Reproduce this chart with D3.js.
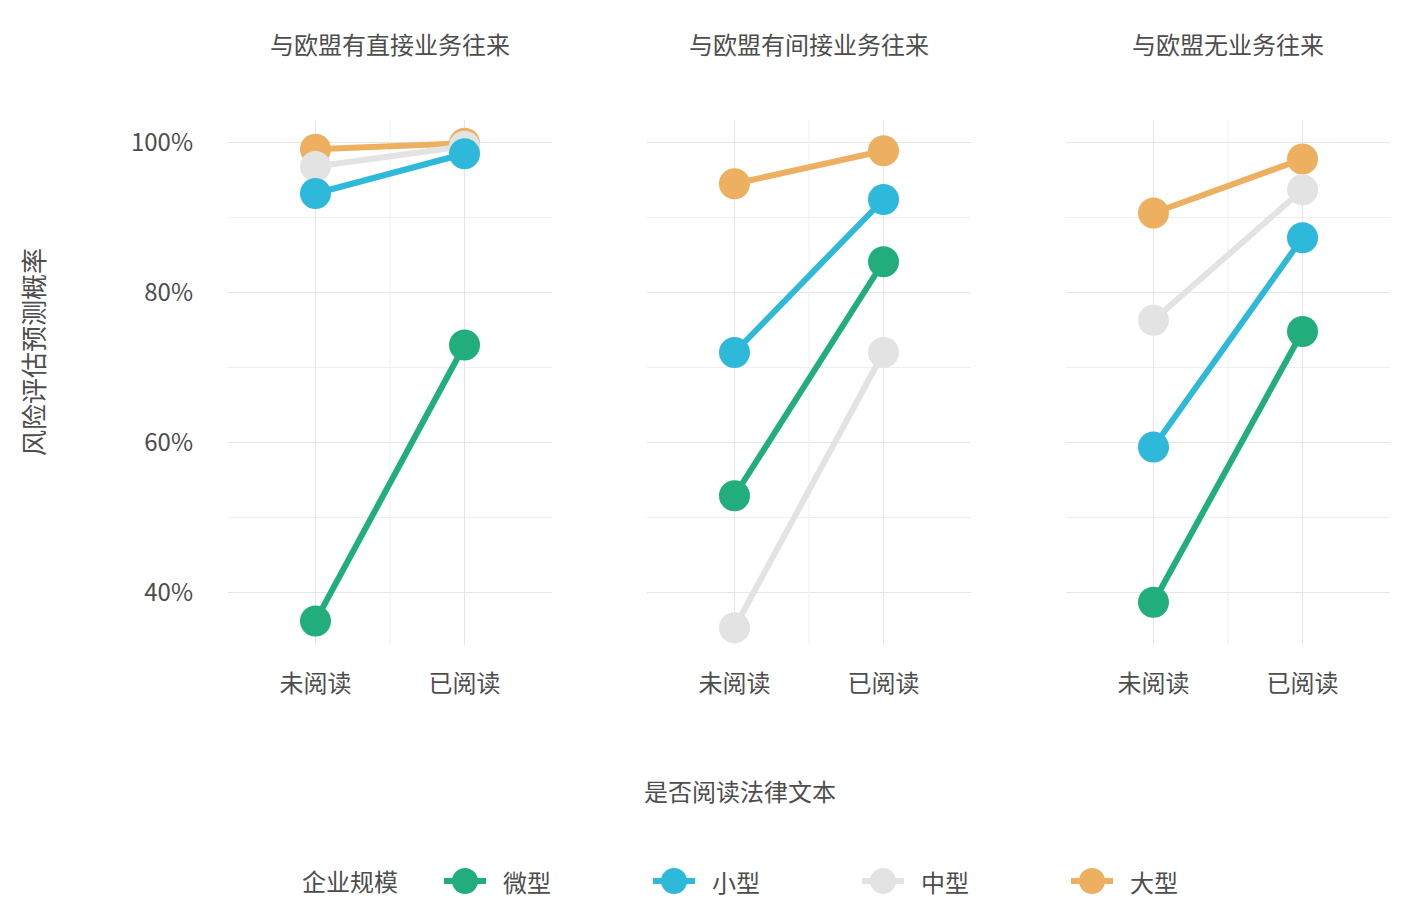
<!DOCTYPE html>
<html lang="zh">
<head>
    <meta charset="UTF-8">
    <title>风险评估预测概率</title>
    <style>
        body { margin: 0; background: #fff; }
        text { font-family: "Noto Sans CJK SC", "Noto Sans", sans-serif; fill: #4d4d4d; }
    </style>
</head>
<body>
<script src="https://cdn.jsdelivr.net/npm/d3@7"></script>
<script>
    // facets, x categories, series
    const panels = ["与欧盟有直接业务往来", "与欧盟有间接业务往来", "与欧盟无业务往来"];
    const reading = ["未阅读", "已阅读"];
    const sizes = ["微型", "小型", "中型", "大型"];
    const colors = ["#21ae7c", "#2eb9db", "#e3e3e3", "#edb061"];

    // probability per panel: [未阅读, 已阅读]
    const micro  = [[0.362, 0.730], [0.529, 0.841], [0.387, 0.748]];
    const small  = [[0.932, 0.985], [0.720, 0.924], [0.594, 0.873]];
    const medium = [[0.968, 0.995], [0.353, 0.720], [0.763, 0.937]];
    const large  = [[0.991, 0.999], [0.945, 0.989], [0.906, 0.978]];
    const series = [micro, small, medium, large];

    const yTicks = [0.4, 0.6, 0.8, 1.0];
    const yMinor = [0.5, 0.7, 0.9];

    const width = 1416, height = 924;
    const panelLeft = [228, 647, 1066], panelWidth = 324;
    const plotTop = 120, plotBottom = 645;

    const svg = d3.select("body").append("svg")
        .attr("width", width)
        .attr("height", height)
        .attr("viewBox", [0, 0, width, height]);

    const y = d3.scaleLinear()
        .domain([0.33, 1.03])
        .range([plotBottom, plotTop]);

    panels.forEach((name, p) => {
        const x = d3.scalePoint()
            .domain(reading)
            .range([panelLeft[p], panelLeft[p] + panelWidth])
            .padding(0.587);

        const g = svg.append("g");

        // grid
        g.append("g").selectAll("line")
            .data(yMinor)
            .join("line")
            .attr("x1", panelLeft[p]).attr("x2", panelLeft[p] + panelWidth)
            .attr("y1", d => y(d)).attr("y2", d => y(d))
            .attr("stroke", "#efefef").attr("stroke-width", 1);
        g.append("g").selectAll("line")
            .data(yTicks)
            .join("line")
            .attr("x1", panelLeft[p]).attr("x2", panelLeft[p] + panelWidth)
            .attr("y1", d => y(d)).attr("y2", d => y(d))
            .attr("stroke", "#e6e6e6").attr("stroke-width", 1);
        const mid = (x(reading[0]) + x(reading[1])) / 2;
        g.append("line")
            .attr("x1", mid).attr("x2", mid)
            .attr("y1", plotTop).attr("y2", plotBottom)
            .attr("stroke", "#efefef");
        g.append("g").selectAll("line")
            .data(reading)
            .join("line")
            .attr("x1", d => x(d)).attr("x2", d => x(d))
            .attr("y1", plotTop).attr("y2", plotBottom)
            .attr("stroke", "#e6e6e6");

        // strip title
        g.append("text")
            .attr("x", panelLeft[p] + panelWidth / 2)
            .attr("y", 43)
            .attr("text-anchor", "middle")
            .attr("dominant-baseline", "central")
            .style("font-size", "24px")
            .text(name);

        // x tick labels
        g.append("g").selectAll("text")
            .data(reading)
            .join("text")
            .attr("x", d => x(d))
            .attr("y", 681)
            .attr("text-anchor", "middle")
            .attr("dominant-baseline", "central")
            .style("font-size", "24px")
            .text(d => d);

        // series drawn in reverse order (large first, micro on top)
        const order = d3.range(sizes.length).reverse();
        const line = d3.line()
            .x((d, i) => x(reading[i]))
            .y(d => y(d));
        order.forEach(s => {
            const vals = series[s][p];
            g.append("path")
                .datum(vals)
                .attr("d", line)
                .attr("fill", "none")
                .attr("stroke", colors[s])
                .attr("stroke-width", 6);
        });
        order.forEach(s => {
            const vals = series[s][p];
            g.append("g").selectAll("circle")
                .data(vals)
                .join("circle")
                .attr("cx", (d, i) => x(reading[i]))
                .attr("cy", d => y(d))
                .attr("r", 15.5)
                .attr("fill", colors[s]);
        });
    });

    // y axis labels (first panel only)
    svg.append("g").selectAll("text")
        .data(yTicks)
        .join("text")
        .attr("x", 193)
        .attr("y", d => y(d) - 2)
        .attr("text-anchor", "end")
        .attr("dominant-baseline", "central")
        .style("font-size", "24px")
        .text(d3.format(".0%"));

    // axis titles
    svg.append("text")
        .attr("transform", `translate(32,352) rotate(-90)`)
        .attr("text-anchor", "middle")
        .attr("dominant-baseline", "central")
        .style("font-size", "26px")
        .text("风险评估预测概率");

    svg.append("text")
        .attr("x", 740)
        .attr("y", 790)
        .attr("text-anchor", "middle")
        .attr("dominant-baseline", "central")
        .style("font-size", "24px")
        .text("是否阅读法律文本");

    // legend
    const legend = svg.append("g").attr("transform", "translate(0,881)");
    legend.append("text")
        .attr("x", 302)
        .attr("y", -1)
        .attr("dominant-baseline", "central")
        .style("font-size", "24px")
        .text("企业规模");
    const keys = legend.selectAll("g.key")
        .data(sizes)
        .join("g")
        .attr("class", "key")
        .attr("transform", (d, i) => `translate(${465 + i * 209},0)`);
    keys.append("line")
        .attr("x1", -21).attr("x2", 21)
        .attr("stroke", (d, i) => colors[i])
        .attr("stroke-width", 6);
    keys.append("circle")
        .attr("r", 13)
        .attr("fill", (d, i) => colors[i]);
    keys.append("text")
        .attr("x", 38)
        .attr("y", 0)
        .attr("dominant-baseline", "central")
        .style("font-size", "24px")
        .text(d => d);
</script>
</body>
</html>
